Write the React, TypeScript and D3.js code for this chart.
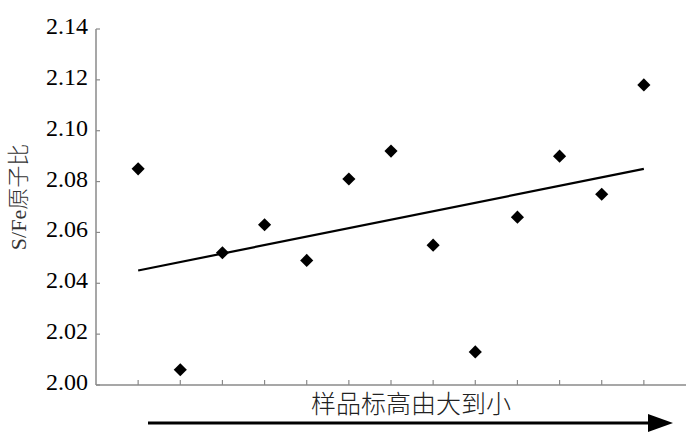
import React from "react";
import * as d3 from "d3";

// S/Fe atomic ratio per sample, ordered from high to low elevation
const samples = [1, 2, 3, 4, 5, 6, 7, 8, 9, 10, 11, 12, 13];
const ratios = [2.085, 2.006, 2.052, 2.063, 2.049, 2.081, 2.092, 2.055, 2.013, 2.066, 2.09, 2.075, 2.118];
const yTicks = [2.0, 2.02, 2.04, 2.06, 2.08, 2.1, 2.12, 2.14];

const W = 692, H = 433;
const margin = { top: 29, right: 6, bottom: 48, left: 96 };
const serif = "'Times New Roman', 'Liberation Serif', 'DejaVu Serif', serif";

export default function App() {
  const x = d3.scaleLinear().domain([0, 14]).range([margin.left, W - margin.right]);
  const y = d3.scaleLinear().domain([2.0, 2.14]).range([H - margin.bottom, margin.top]);

  // least squares trend line
  const mx = d3.mean(samples) as number;
  const my = d3.mean(ratios) as number;
  const sxy = d3.sum(samples.map((s, i) => (s - mx) * (ratios[i] - my)));
  const sxx = d3.sum(samples.map((s) => (s - mx) ** 2));
  const slope = sxy / sxx;
  const fit = (s: number) => my + slope * (s - mx);
  const line = d3.line<number>().x((s) => x(s)).y((s) => y(fit(s)));

  const diamond = d3.symbol().type(d3.symbolDiamond2).size(110)();
  const axisColor = "#8a8a8a";
  const y0 = y(2.0);

  return (
    <svg width={W} height={H} style={{ position: "absolute", left: 0, top: 0, background: "#fff" }}>
      {/* axes */}
      <line x1={x(0)} x2={x(0)} y1={y(2.14)} y2={y0} stroke={axisColor} strokeWidth={1.5} />
      <line x1={x(0)} x2={x(14)} y1={y0} y2={y0} stroke={axisColor} strokeWidth={1.5} />
      {yTicks.map((t) => (
        <g key={t}>
          <line x1={x(0)} x2={x(0) + 4} y1={y(t)} y2={y(t)} stroke={axisColor} strokeWidth={1.2} />
          <text x={x(0) - 8} y={y(t) + 5} textAnchor="end"
            fontFamily={serif} fontSize={24} fill="#000">{t.toFixed(2)}</text>
        </g>
      ))}
      {samples.map((s) => (
        <line key={s} x1={x(s)} x2={x(s)} y1={y0} y2={y0 - 5} stroke={axisColor} strokeWidth={1.2} />
      ))}

      {/* y label */}
      <text transform={`translate(26,197) rotate(-90)`} textAnchor="middle" fontSize={22} fill="#333">
        <tspan fontFamily={serif}>S/Fe</tspan>
        <tspan fontFamily="'Noto Sans CJK SC'" fontWeight={300}>原子比</tspan>
      </text>

      {/* trend line */}
      <path d={line([samples[0], samples[samples.length - 1]]) || ""} fill="none" stroke="#000" strokeWidth={2.2} />

      {/* points */}
      {samples.map((s, i) => (
        <path key={s} d={diamond || ""} transform={`translate(${x(s)},${y(ratios[i])})`} fill="#000" />
      ))}

      {/* x label and arrow */}
      <text x={411} y={413} textAnchor="middle" fontFamily="'Noto Sans CJK SC'" fontWeight={300}
        fontSize={25} fill="#222">样品标高由大到小</text>
      <line x1={148} x2={650} y1={423} y2={423} stroke="#000" strokeWidth={3} />
      <path d="M648,414 L673,423 L648,432 Z" fill="#000" />
    </svg>
  );
}
